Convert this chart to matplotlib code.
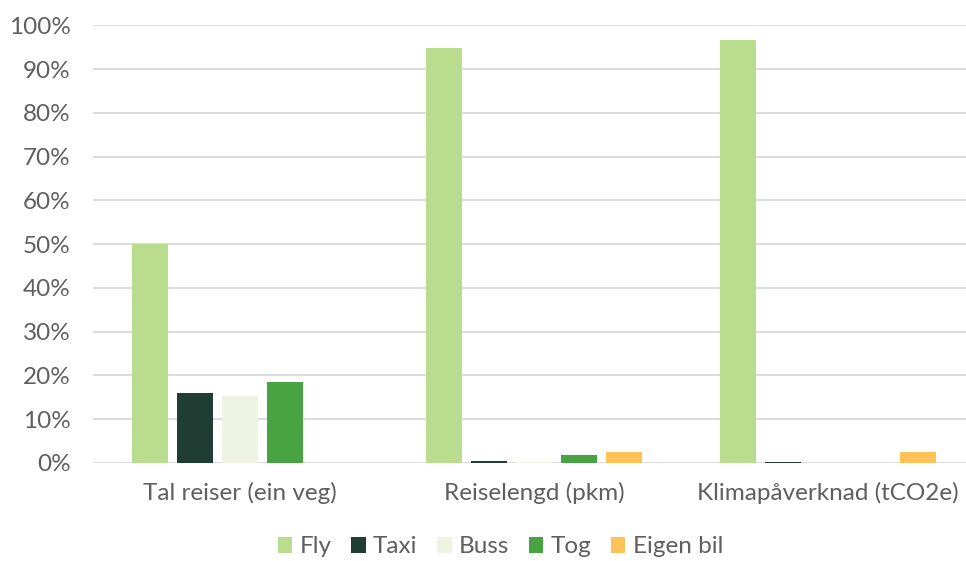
import matplotlib
matplotlib.use("Agg")
import matplotlib.pyplot as plt
import numpy as np

categories = ["Tal reiser (ein veg)", "Reiselengd (pkm)", "Klimapåverknad (tCO2e)"]
series = ["Fly", "Taxi", "Buss", "Tog", "Eigen bil"]
fly = [50.0, 94.7, 96.6]
taxi = [16.0, 0.4, 0.3]
buss = [15.3, 0.2, 0.05]
tog = [18.5, 1.9, 0.0]
eigen_bil = [0.0, 2.4, 2.5]
values = [fly, taxi, buss, tog, eigen_bil]
colors = ["#B9DC8F", "#1F3D33", "#EFF4E2", "#4AA342", "#FFC258"]

plt.rcParams['font.family'] = ['Lato', 'DejaVu Sans']
fig = plt.figure(figsize=(9.66, 5.61), dpi=100)
ax = fig.add_axes([0.0963, 0.175, 0.913, 0.78])

x = np.arange(len(categories))
step = 0.153
width = 0.122
for i, (name, vals, c) in enumerate(zip(series, values, colors)):
    ax.bar(x + (i - 2) * step, vals, width=width, color=c, label=name, zorder=3)

ax.set_xlim(-0.5, 2.5)
ax.set_ylim(0, 100)
ax.set_yticks(np.arange(0, 101, 10))
ax.set_yticklabels([f"{v}%" for v in range(0, 101, 10)])
ax.set_xticks(x)
ax.set_xticklabels(categories)
ax.grid(axis='y', color='#D9D9D9', linewidth=1.3, zorder=0)
for s in ax.spines.values():
    s.set_visible(False)
ax.tick_params(axis='both', length=0, labelsize=17.5, labelcolor='#5F5F5F')
ax.tick_params(axis='y', pad=16)
ax.tick_params(axis='x', pad=14)

leg = fig.legend(loc='center', bbox_to_anchor=(0.518, 0.025), ncol=5, frameon=False,
                 fontsize=17.5, handlelength=0.6, handleheight=0.6, handletextpad=0.3,
                 columnspacing=0.8, labelcolor='#5F5F5F')

fig.savefig("out.png", dpi=100)
